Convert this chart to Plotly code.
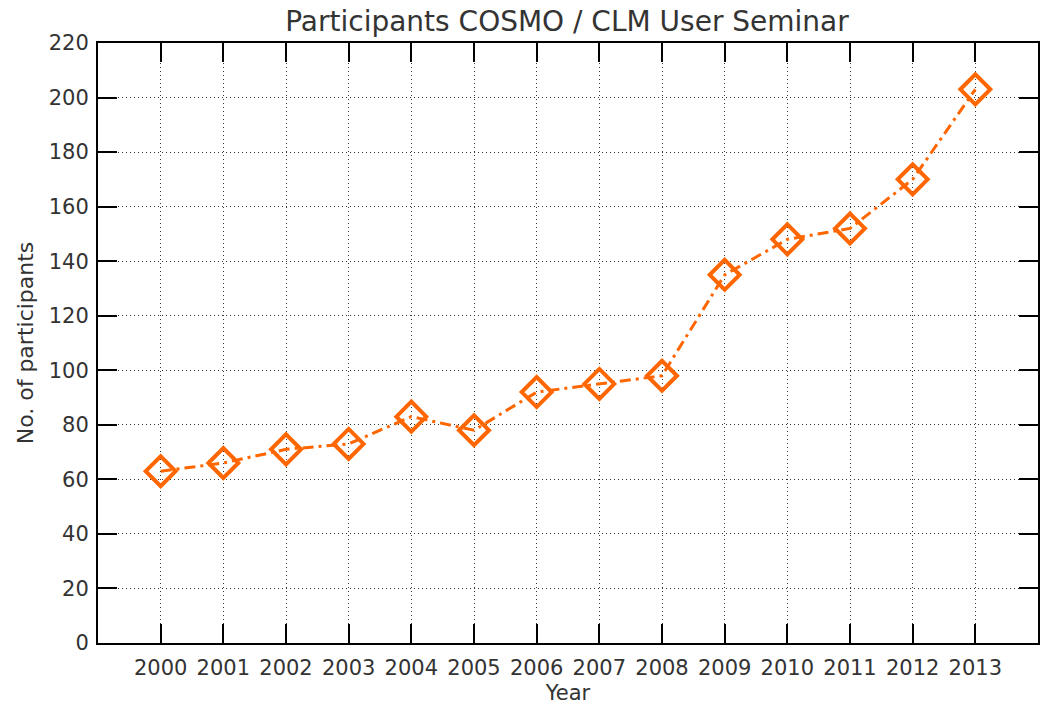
import plotly.graph_objects as go

years = [2000, 2001, 2002, 2003, 2004, 2005, 2006, 2007, 2008, 2009, 2010, 2011, 2012, 2013]
participants = [63, 66, 71, 73, 83, 78, 92, 95, 98, 135, 148, 152, 170, 203]
y_ticks = list(range(0, 221, 20))

orange = "#FF6600"
font_family = "DejaVu Sans"
text_color = "#333333"

fig = go.Figure()
fig.add_trace(go.Scatter(
    x=years, y=participants, mode="lines+markers",
    line=dict(color=orange, width=3, dash="11px,5px,3px,5px"),
    marker=dict(symbol="diamond-open", size=23, color=orange, line=dict(color=orange, width=4)),
    showlegend=False,
))

axis_common = dict(
    showline=True, linecolor="black", linewidth=2, mirror="allticks",
    ticks="inside", ticklen=19, tickwidth=2, tickcolor="black",
    showgrid=True, gridcolor="#333333", gridwidth=1, griddash="1px,3px",
    zeroline=False, automargin=False,
    tickfont=dict(family=font_family, size=21, color=text_color),
)

fig.update_layout(
    width=1041, height=705,
    paper_bgcolor="white", plot_bgcolor="white",
    margin=dict(l=98, r=3, t=43, b=62),
    title=dict(text="Participants COSMO / CLM User Seminar", x=567 / 1041, xref="container",
               y=1 - 21 / 705, yanchor="middle", xanchor="center",
               font=dict(family=font_family, size=28, color=text_color)),
    font=dict(family=font_family, color=text_color),
)
fig.update_xaxes(range=[1999, 2014], tickvals=years, ticktext=[str(y) for y in years],
                 title=dict(text="Year", standoff=13, font=dict(family=font_family, size=21, color=text_color)),
                 ticklabelstandoff=5, **axis_common)
fig.update_yaxes(range=[0, 220], tickvals=y_ticks,
                 title=dict(text="No. of participants", standoff=9, font=dict(family=font_family, size=22, color=text_color)),
                 ticklabelstandoff=3, **axis_common)

fig.write_html("out.html", config={"displayModeBar": False},
               post_script="document.body.style.margin='0px';")
